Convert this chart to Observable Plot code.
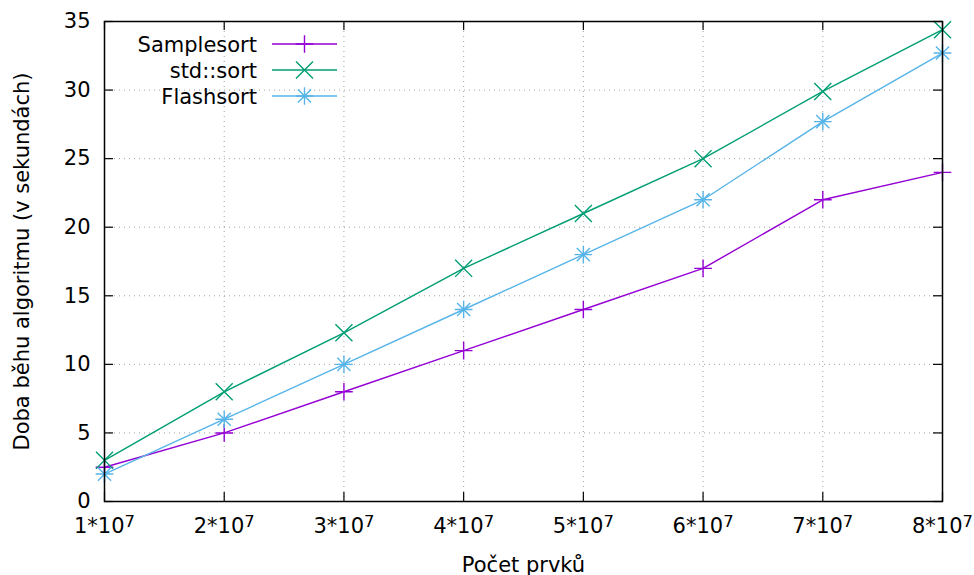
<!DOCTYPE html>
<html><head><meta charset="utf-8">
<script src="https://cdn.jsdelivr.net/npm/d3@7"></script>
<script src="https://cdn.jsdelivr.net/npm/@observablehq/plot@0.6"></script>
<style>
body{margin:0;background:#fff;}
#wrap{position:relative;width:974px;height:575px;font-family:"DejaVu Sans",sans-serif;}
#legend{position:absolute;left:0;top:0;pointer-events:none;}
</style></head><body><div id="wrap"></div>
<script>
// Data (x in units of 10^7 elements, y in seconds)
const sizes = [1, 2, 3, 4, 5, 6, 7, 8];
const samplesort = [2.5, 5, 8, 11, 14, 17, 22, 24];
const stdsort = [3, 8, 12.3, 17, 21, 25, 29.9, 34.4];
const flashsort = [2, 6, 10, 14, 18, 22, 27.7, 32.7];
const seriesNames = ["Samplesort", "std::sort", "Flashsort"];
const colors = ["#9400d3", "#009e73", "#56b4e9"];
const xTicks = [1, 2, 3, 4, 5, 6, 7, 8];
const yTicks = [0, 5, 10, 15, 20, 25, 30, 35];
const xLabel = "Počet prvků";
const yLabel = "Doba běhu algoritmu (v sekundách)";

const values = [samplesort, stdsort, flashsort];
const data = seriesNames.flatMap((s, i) => sizes.map((x, j) => ({series: s, x, y: values[i][j]})));
const bySeries = s => data.filter(d => d.series === s);

const W = 974, H = 575, mL = 104, mR = 32, mT = 21, mB = 74;
const pw = W - mL - mR, ph = H - mT - mB;
const tick = 9;
const FS = 21;
const rPlus = 5.75, rTimes = 7.8;
const grid = {stroke: "#a0a0a0", strokeWidth: 1, strokeDasharray: "1,4"};

const chart = Plot.plot({
  width: W, height: H,
  marginLeft: mL, marginRight: mR, marginTop: mT, marginBottom: mB,
  style: {fontFamily: "DejaVu Sans, sans-serif", fontSize: FS + "px", color: "#000", background: "#fff"},
  x: {domain: [1, 8]},
  y: {domain: [0, 35]},
  color: {domain: seriesNames, range: colors},
  marks: [
    Plot.ruleX(xTicks.slice(1, -1), grid),
    Plot.ruleY(yTicks.slice(1, -1), grid),
    Plot.ruleX(xTicks, {stroke: "#000", strokeWidth: 1.2, insetTop: ph - tick}),
    Plot.ruleX(xTicks, {stroke: "#000", strokeWidth: 1.2, insetBottom: ph - tick}),
    Plot.ruleY(yTicks, {stroke: "#000", strokeWidth: 1.2, insetRight: pw - tick}),
    Plot.ruleY(yTicks, {stroke: "#000", strokeWidth: 1.2, insetLeft: pw - tick}),
    Plot.axisX(xTicks, {tickSize: 0, tickPadding: 17, tickFormat: d => `${d}*10^7`, label: null}),
    Plot.axisY(yTicks, {tickSize: 0, tickPadding: 14, label: null}),
    Plot.text([xLabel], {text: d => d, frameAnchor: "bottom", textAnchor: "middle", dy: 70, fontSize: FS, fill: "#000"}),
    Plot.text([yLabel], {text: d => d, frameAnchor: "left", textAnchor: "middle", dx: -82, rotate: -90, fontSize: FS, fill: "#000"}),
    Plot.line(data, {x: "x", y: "y", z: "series", stroke: "series", strokeWidth: 1.4}),
    Plot.dot(bySeries("Samplesort"), {x: "x", y: "y", symbol: "plus", r: rPlus, stroke: colors[0], fill: "none", strokeWidth: 1.4}),
    Plot.dot(bySeries("std::sort"), {x: "x", y: "y", symbol: "times", r: rTimes, stroke: colors[1], fill: "none", strokeWidth: 1.4}),
    Plot.dot(bySeries("Flashsort"), {x: "x", y: "y", symbol: "plus", r: rPlus, stroke: colors[2], fill: "none", strokeWidth: 1.4}),
    Plot.dot(bySeries("Flashsort"), {x: "x", y: "y", symbol: "times", r: rPlus * 1.05, stroke: colors[2], fill: "none", strokeWidth: 1.4}),
    Plot.frame({stroke: "#000", strokeWidth: 1.5})
  ]
});

// superscript exponents in x tick labels
d3.select(chart).selectAll('g[aria-label="x-axis tick label"] text').each(function() {
  const t = d3.select(this);
  const [base, exp] = t.text().split("^");
  t.text(null);
  t.append("tspan").text(base);
  t.append("tspan").attr("dy", "-0.42em").attr("font-size", "0.78em").text(exp);
});

document.getElementById("wrap").appendChild(chart);

// legend (inside the plot, top-left)
const lg = d3.select("#wrap").append("svg").attr("id", "legend").attr("width", W).attr("height", H)
  .style("font-family", "DejaVu Sans, sans-serif").style("font-size", FS + "px");
const textRight = 257, lineX1 = 272, lineX2 = 337, markX = 304.5, row0 = 44, rowH = 26;
const symSize = r => Math.PI * r * r;
seriesNames.forEach((name, i) => {
  const y = row0 + i * rowH;
  const g = lg.append("g");
  g.append("text").attr("x", textRight).attr("y", y).attr("text-anchor", "end").attr("dy", "0.36em").attr("fill", "#000").text(name);
  g.append("line").attr("x1", lineX1).attr("x2", lineX2).attr("y1", y).attr("y2", y).attr("stroke", colors[i]).attr("stroke-width", 1.4);
  const syms = i === 0 ? [[d3.symbolPlus, rPlus]] : i === 1 ? [[d3.symbolTimes, rTimes]] : [[d3.symbolPlus, rPlus], [d3.symbolTimes, rPlus * 1.05]];
  syms.forEach(([type, r]) => {
    g.append("path").attr("transform", `translate(${markX},${y})`).attr("d", d3.symbol(type, symSize(r))())
      .attr("fill", "none").attr("stroke", colors[i]).attr("stroke-width", 1.4);
  });
});
</script></body></html>
